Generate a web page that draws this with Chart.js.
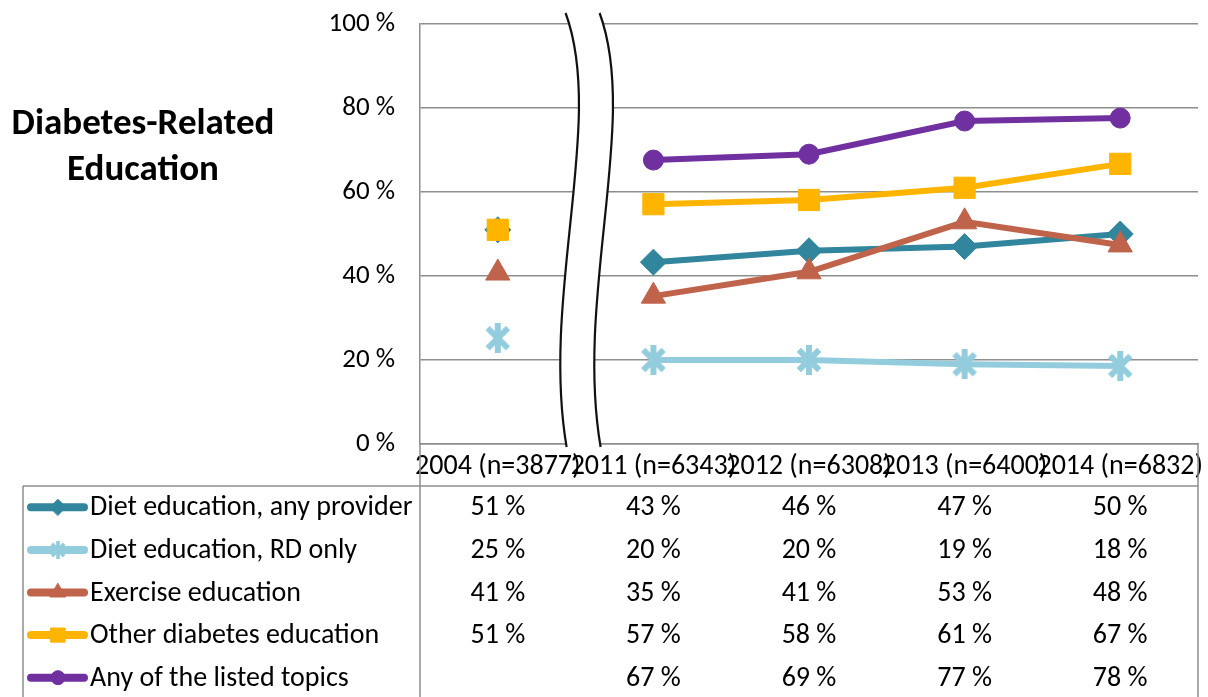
<!DOCTYPE html>
<html>
<head>
<meta charset="utf-8">
<script src="https://cdn.jsdelivr.net/npm/chart.js@4/dist/chart.umd.min.js"></script>
<style>
  html, body { margin: 0; padding: 0; background: #fff; }
  #wrap { width: 1208px; height: 697px; position: relative; }
</style>
</head>
<body>
<div id="wrap"><canvas id="myChart"></canvas></div>
<script>
const categories = ['2004 (n=3877)', '2011 (n=6343)', '2012 (n=6308)', '2013 (n=6400)', '2014 (n=6832)'];
const seriesNames = ['Diet education, any provider', 'Diet education, RD only', 'Exercise education', 'Other diabetes education', 'Any of the listed topics'];

// plotted values
const dietAny = [51, 43.3, 46, 47, 50];
const dietRD = [25.2, 20, 20, 19, 18.6];
const exercise = [40.7, 35.2, 41, 52.9, 47.4];
const otherEdu = [51, 57.1, 58.1, 61, 66.7];
const anyTopic = [null, 67.6, 69, 76.9, 77.6];

// values printed in the data table
const tableDietAny = [51, 43, 46, 47, 50];
const tableDietRD = [25, 20, 20, 19, 18];
const tableExercise = [41, 35, 41, 53, 48];
const tableOtherEdu = [51, 57, 58, 61, 67];
const tableAnyTopic = [null, 67, 69, 77, 78];

const yTicks = [0, 20, 40, 60, 80, 100];

const FONT = 'Carlito, Calibri, Lato, sans-serif';
const colors = ['#31859C', '#93CDDD', '#C0634B', '#FFB500', '#7030A0'];

// Excel-style star marker: X with a vertical bar
function starMarker(size, color) {
  const c = document.createElement('canvas');
  c.width = size; c.height = size;
  const g = c.getContext('2d');
  g.strokeStyle = color;
  g.lineWidth = size * 0.2;
  const m = size * 0.16;
  g.beginPath();
  g.moveTo(m, m); g.lineTo(size - m, size - m);
  g.moveTo(size - m, m); g.lineTo(m, size - m);
  g.moveTo(size / 2, 0); g.lineTo(size / 2, size);
  g.stroke();
  return c;
}
const starBig = starMarker(30, colors[1]);
const starSmall = starMarker(18, colors[1]);

const styles = ['rectRot', starBig, 'triangle', 'rect', 'circle'];
const radii = [13, 15, 14, 15, 10];
const legendStyles = ['rectRot', starSmall, 'triangle', 'rect', 'circle'];
const legendRadii = [8, 9, 9, 10, 7];

const values = [dietAny, dietRD, exercise, otherEdu, anyTopic];
const tables = [tableDietAny, tableDietRD, tableExercise, tableOtherEdu, tableAnyTopic];

const datasets = values.map((d, i) => ({
  label: seriesNames[i],
  data: d,
  borderColor: colors[i],
  backgroundColor: colors[i],
  borderWidth: 6,
  pointStyle: styles[i],
  pointRadius: radii[i],
  pointHoverRadius: radii[i],
  pointBorderWidth: 1,
  pointBorderColor: colors[i],
  order: 4 - i,
  spanGaps: false,
  segment: {
    // axis break between 2004 and 2011: no connecting line
    borderColor: ctx => ctx.p0DataIndex === 0 ? 'rgba(0,0,0,0)' : colors[i]
  }
}));

const breakPlugin = {
  id: 'axisBreak',
  beforeDatasetsDraw(chart) {
    const x = chart.scales.x, ca = chart.chartArea, c = chart.ctx;
    const mid = (x.getPixelForTick(0) + x.getPixelForTick(1)) / 2;
    const top = ca.top - 11, bot = ca.bottom + 3;
    const h = bot - top;
    const gap = 34;
    const path = (dx) => {
      c.moveTo(mid - 10 + dx, top);
      c.bezierCurveTo(mid + 30 + dx, top + h * 0.25, mid - 35 + dx, top + h * 0.65, mid - 9 + dx, bot);
    };
    c.save();
    c.beginPath();
    path(0);
    c.lineTo(mid - 9 + gap, bot);
    c.bezierCurveTo(mid - 35 + gap, top + h * 0.65, mid + 30 + gap, top + h * 0.25, mid - 10 + gap, top);
    c.closePath();
    c.fillStyle = '#fff';
    c.fill();
    c.beginPath();
    path(0);
    path(gap);
    c.strokeStyle = '#111';
    c.lineWidth = 2.2;
    c.stroke();
    c.restore();
  }
};

const tablePlugin = {
  id: 'dataTable',
  afterDraw(chart) {
    const c = chart.ctx, ca = chart.chartArea, x = chart.scales.x;
    const headH = 42, rowH = 42.6, tLeft = 23;
    const top = ca.bottom + headH;
    c.save();
    c.strokeStyle = '#8e8e8e';
    c.lineWidth = 1.5;
    c.beginPath();
    c.moveTo(tLeft, top); c.lineTo(ca.right, top);
    c.moveTo(tLeft, top); c.lineTo(tLeft, 697);
    c.moveTo(ca.left, ca.bottom); c.lineTo(ca.left, 697);
    c.moveTo(ca.right, ca.bottom); c.lineTo(ca.right, 697);
    c.stroke();

    c.font = '28px ' + FONT;
    c.textBaseline = 'middle';
    seriesNames.forEach((name, i) => {
      const cy = top + rowH * (i + 0.5);
      // legend key
      c.strokeStyle = colors[i];
      c.lineWidth = 8;
      c.lineCap = 'round';
      c.beginPath();
      c.moveTo(31, cy); c.lineTo(84, cy);
      c.stroke();
      c.fillStyle = colors[i];
      c.strokeStyle = colors[i];
      c.lineWidth = 1;
      Chart.helpers.drawPoint(c, { pointStyle: legendStyles[i], radius: legendRadii[i], borderWidth: 1 }, 58, cy);
      c.fillStyle = '#000';
      c.textAlign = 'left';
      c.fillText(name, 90, cy + 1);
      c.textAlign = 'center';
      tables[i].forEach((v, j) => {
        if (v !== null) c.fillText(v + ' %', x.getPixelForTick(j), cy + 1);
      });
    });
    c.restore();
  }
};

const titlePlugin = {
  id: 'sideTitle',
  afterDraw(chart) {
    const c = chart.ctx;
    c.save();
    c.font = 'bold 37px ' + FONT;
    c.fillStyle = '#000';
    c.textAlign = 'center';
    c.textBaseline = 'middle';
    c.fillText('Diabetes-Related', 143, 125);
    c.fillText('Education', 143, 171);
    c.restore();
  }
};

new Chart(document.getElementById('myChart'), {
  type: 'line',
  data: { labels: categories, datasets: datasets },
  plugins: [breakPlugin, tablePlugin, titlePlugin],
  options: {
    responsive: true,
    maintainAspectRatio: false,
    animation: false,
    layout: { autoPadding: false, padding: { left: 300, top: 24, right: 10, bottom: 0 } },
    plugins: { legend: { display: false }, tooltip: { enabled: false }, title: { display: false } },
    scales: {
      x: {
        type: 'category',
        offset: true,
        afterFit: s => { s.height = 253; s.paddingLeft = 0; s.paddingRight = 0; },
        grid: { display: false, drawTicks: false },
        border: { display: true, color: '#8e8e8e', width: 1.5 },
        ticks: {
          autoSkip: false, maxRotation: 0, minRotation: 0, padding: 6,
          color: '#000', font: { family: FONT, size: 28 }
        }
      },
      y: {
        min: yTicks[0],
        max: yTicks[yTicks.length - 1],
        afterFit: s => { s.width = 120; s.paddingTop = 0; s.paddingBottom = 0; },
        afterBuildTicks: s => { s.ticks = yTicks.map(v => ({ value: v })); },
        grid: { color: '#8e8e8e', lineWidth: 1.5, drawTicks: false },
        border: { display: true, color: '#8e8e8e', width: 1.5 },
        ticks: {
          padding: 25, color: '#000', font: { family: FONT, size: 27 },
          callback: v => v + ' %'
        }
      }
    }
  }
});
</script>
</body>
</html>
